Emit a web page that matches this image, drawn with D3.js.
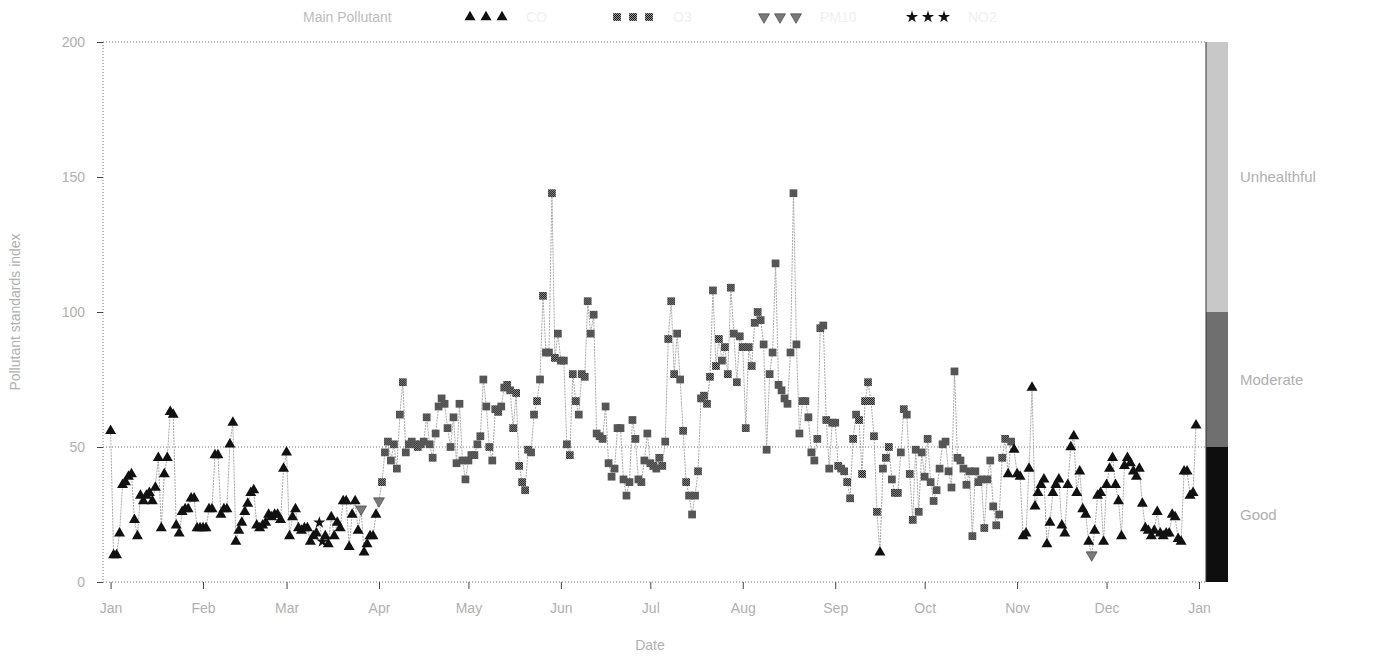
<!DOCTYPE html>
<html>
<head>
<meta charset="utf-8">
<script src="https://cdn.jsdelivr.net/npm/d3@7"></script>
<style>
  body { margin: 0; background: #fff; }
  text { font-family: "Liberation Sans", Arial, sans-serif; }
</style>
</head>
<body>
<svg id="chart" width="1373" height="660"></svg>
<script>
// daily pollutant standards index, one array per month
var jan = [56, 10, 10, 18, 36, 37, 39, 40, 23, 17, 32, 30, 32, 33, 30, 35, 46, 20, 40, 46, 63, 62, 21, 18, 26, 27, 27, 31, 31, 20, 20],
	feb = [20, 20, 27, 27, 47, 47, 25, 27, 27, 51, 59, 15, 19, 22, 26, 29, 33, 34, 21, 20, 21, 22, 25, 24, 25, 25, 23, 42],
	mar = [48, 17, 24, 27, 20, 19, 20, 20, 15, 17, 18, 22, 15, 17, 14, 24, 17, 22, 20, 30, 30, 13, 25, 30, 19, 27, 11, 14, 17, 17, 25],
	apr = [30, 37, 48, 52, 45, 51, 42, 62, 74, 48, 51, 52, 51, 50, 51, 52, 61, 51, 46, 55, 65, 68, 66, 57, 50, 61, 44, 66, 45, 38],
	may = [45, 47, 47, 51, 54, 75, 65, 50, 45, 64, 63, 65, 72, 73, 71, 57, 70, 43, 37, 34, 49, 48, 62, 67, 75, 106, 85, 85, 144, 83, 92],
	jun = [82, 82, 51, 47, 77, 67, 62, 77, 76, 104, 92, 99, 55, 54, 53, 65, 44, 39, 42, 57, 57, 38, 32, 37, 60, 53, 38, 37, 45, 55],
	jul = [44, 43, 42, 46, 43, 52, 90, 104, 77, 92, 75, 56, 37, 32, 25, 32, 41, 68, 69, 66, 76, 108, 80, 90, 82, 87, 77, 109, 92, 74, 91],
	aug = [87, 57, 87, 80, 96, 100, 97, 88, 49, 77, 85, 118, 73, 71, 68, 66, 85, 144, 88, 55, 67, 67, 61, 48, 45, 53, 94, 95, 60, 42, 59],
	sep = [59, 43, 42, 41, 37, 31, 53, 62, 60, 40, 67, 74, 67, 54, 26, 11, 42, 46, 50, 38, 33, 33, 48, 64, 62, 40, 23, 49, 26, 48],
	oct = [39, 53, 37, 30, 34, 42, 51, 52, 41, 35, 78, 46, 45, 42, 36, 41, 17, 41, 37, 38, 20, 38, 45, 28, 21, 25, 46, 53, 40, 52, 49],
	nov = [40, 39, 17, 18, 42, 72, 28, 33, 36, 38, 14, 22, 33, 36, 38, 21, 18, 36, 50, 54, 33, 41, 27, 25, 15, 10, 19, 32, 33, 15],
	dec = [36, 42, 46, 36, 30, 17, 43, 46, 44, 41, 39, 42, 29, 20, 19, 17, 19, 26, 18, 17, 18, 18, 25, 24, 16, 15, 41, 41, 32, 33, 58];

// main pollutant per day: C = CO, O = O3, P = PM10, N = NO2
var polJan = "CCCCCCCCCCCCCCCCCCCCCCCCCCCCCCC",
	polFeb = "CCCCCCCCCCCCCCCCCCCCCCCCCCCC",
	polMar = "CCCCCCCCCCCNNCCCCCCCCCCCCPCCCCC",
	polApr = "POOOOOOOOOOOOOOOOOOOOOOOOOOOOO",
	polMay = "OOOOOOOOOOOOOOOOOOOOOOOOOOOOOOO",
	polJun = "OOOOOOOOOOOOOOOOOOOOOOOOOOOOOO",
	polJul = "OOOOOOOOOOOOOOOOOOOOOOOOOOOOOOO",
	polAug = "OOOOOOOOOOOOOOOOOOOOOOOOOOOOOOO",
	polSep = "OOOOOOOOOOOOOOOCOOOOOOOOOOOOOO",
	polOct = "OOOOOOOOOOOOOOOOOOOOOOOOOOOOCOC",
	polNov = "CCCCCCCCCCCCCCCCCCCCCCCCCPCCCC",
	polDec = "CCCCCCCCCCCCCCCCCCCCCCCCCCCCCCC";

var legendKeys = ["C", "O", "P", "N"],
	legendNames = ["CO", "O3", "PM10", "NO2"];

var bandNames = ["Good", "Moderate", "Unhealthful"],
	bandLimits = [0, 50, 100, 200],
	bandColors = ["#0e0e0e", "#6f6f6f", "#c8c8c8"];

var yTicks = [0, 50, 100, 150, 200];

var year = 2001,
	monthValues = [jan, feb, mar, apr, may, jun, jul, aug, sep, oct, nov, dec],
	monthPols = [polJan, polFeb, polMar, polApr, polMay, polJun, polJul, polAug, polSep, polOct, polNov, polDec];

var days = [];
monthValues.forEach(function(vals, m) {
	vals.forEach(function(v, i) {
		days.push({date: new Date(year, m, i + 1), value: v, pol: monthPols[m].charAt(i)});
	});
});

var svg = d3.select("#chart"),
	axisLeftX = 103,
	plotRight = 1206,
	textGray = "#b0b0b0";

var x = d3.scaleTime()
	.domain([new Date(year, 0, 1), new Date(year + 1, 0, 1)])
	.range([110.6, 1199]);

var y = d3.scaleLinear().domain([0, 200]).range([582, 42]);

// dither pattern for the O3 squares
var defs = svg.append("defs");
var pat = defs.append("pattern")
	.attr("id", "dither")
	.attr("width", 2).attr("height", 2)
	.attr("patternUnits", "userSpaceOnUse");
pat.append("rect").attr("width", 2).attr("height", 2).attr("fill", "#9a9a9a");
pat.append("rect").attr("width", 1).attr("height", 1).attr("fill", "#111");
pat.append("rect").attr("x", 1).attr("y", 1).attr("width", 1).attr("height", 1).attr("fill", "#111");

// --- BANDS --- //
svg.selectAll(".band").data(bandNames).enter().append("rect")
	.attr("class", "band")
	.attr("x", plotRight)
	.attr("width", 22)
	.attr("y", function(d, i) { return y(bandLimits[i + 1]); })
	.attr("height", function(d, i) { return y(bandLimits[i]) - y(bandLimits[i + 1]); })
	.attr("fill", function(d, i) { return bandColors[i]; });

svg.append("line")
	.attr("x1", plotRight).attr("x2", plotRight)
	.attr("y1", y(200)).attr("y2", y(0))
	.attr("stroke", "#333").attr("stroke-width", 1);

svg.selectAll(".band-label").data(bandNames).enter().append("text")
	.attr("class", "band-label")
	.attr("x", 1240)
	.attr("y", function(d, i) { return (y(bandLimits[i]) + y(bandLimits[i + 1])) / 2 + 5; })
	.attr("fill", textGray)
	.style("font-size", "15px")
	.text(function(d) { return d; });

// --- GRID / FRAME --- //
function dotted(x1, y1, x2, y2) {
	svg.append("line")
		.attr("x1", x1).attr("y1", y1).attr("x2", x2).attr("y2", y2)
		.attr("stroke", "#777").attr("stroke-width", 1)
		.attr("stroke-dasharray", "1,2");
}
dotted(axisLeftX, y(200), plotRight, y(200));
dotted(axisLeftX, y(50), plotRight, y(50));
dotted(axisLeftX, y(0), plotRight, y(0));
dotted(axisLeftX, y(200), axisLeftX, y(0));

// --- AXES --- //
var yAxis = svg.append("g")
	.attr("transform", "translate(" + axisLeftX + ",0)")
	.call(d3.axisLeft(y).tickValues(yTicks).tickSize(6).tickPadding(12));
yAxis.select(".domain").remove();
yAxis.selectAll("line").attr("stroke", "#444");
yAxis.selectAll("text").attr("fill", textGray).style("font-size", "14px");

var xAxis = svg.append("g")
	.attr("transform", "translate(0," + y(0) + ")")
	.call(d3.axisBottom(x).ticks(d3.timeMonth.every(1)).tickFormat(d3.timeFormat("%b")).tickSize(7).tickPadding(14));
xAxis.select(".domain").remove();
xAxis.selectAll("line").attr("stroke", "#444");
xAxis.selectAll("text").attr("fill", textGray).style("font-size", "14px");

svg.append("text")
	.attr("x", 650).attr("y", 650)
	.attr("text-anchor", "middle")
	.attr("fill", textGray)
	.style("font-size", "14px")
	.text("Date");

svg.append("text")
	.attr("transform", "translate(20,312) rotate(-90)")
	.attr("text-anchor", "middle")
	.attr("fill", textGray)
	.style("font-size", "14px")
	.text("Pollutant standards index");

// --- LINE --- //
var line = d3.line()
	.x(function(d) { return x(d.date); })
	.y(function(d) { return y(d.value); });

svg.append("path")
	.datum(days)
	.attr("d", line)
	.attr("fill", "none")
	.attr("stroke", "#a8a8a8")
	.attr("stroke-width", 1)
	.attr("stroke-dasharray", "2,1");

// --- MARKERS --- //
var symbolFor = {
	C: {type: d3.symbolTriangle, size: 52, fill: "#111", rot: 0},
	O: {type: d3.symbolSquare, size: 60, fill: "url(#dither)", rot: 0},
	P: {type: d3.symbolTriangle, size: 52, fill: "#7a7a7a", rot: 180},
	N: {type: d3.symbolStar, size: 46, fill: "#111", rot: 0}
};

function drawSymbol(g, key, cx, cy) {
	var s = symbolFor[key];
	g.append("path")
		.attr("d", d3.symbol().type(s.type).size(s.size)())
		.attr("transform", "translate(" + cx + "," + cy + ") rotate(" + s.rot + ")")
		.attr("fill", s.fill)
		.attr("stroke", key === "P" ? "#333" : "none")
		.attr("stroke-width", 0.6);
}

var markers = svg.append("g");
days.forEach(function(d) {
	drawSymbol(markers, d.pol, x(d.date), y(d.value));
});

// --- LEGEND --- //
var legend = svg.append("g");
legend.append("text")
	.attr("x", 303).attr("y", 22)
	.attr("fill", "#bcbcbc")
	.style("font-size", "14px")
	.text("Main Pollutant");

var legendStart = [470, 617, 764, 912];
legendKeys.forEach(function(k, i) {
	for (var j = 0; j < 3; j++) {
		drawSymbol(legend, k, legendStart[i] + j * 16, 17);
	}
	legend.append("text")
		.attr("x", legendStart[i] + 56).attr("y", 22)
		.attr("fill", "#f0f0f0")
		.style("font-size", "14px")
		.text(legendNames[i]);
});
</script>
</body>
</html>
